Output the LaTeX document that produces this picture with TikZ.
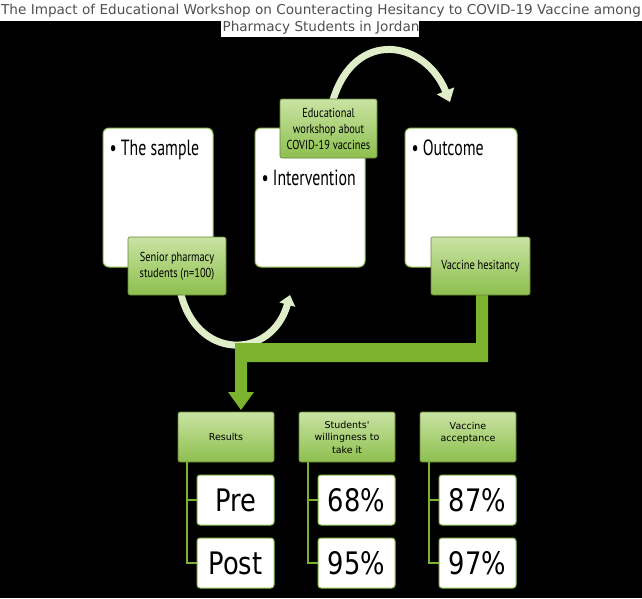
\documentclass[tikz,border=0pt]{standalone}
\usepackage{fontspec}
\setmainfont{PT Sans}[FakeStretch=0.8]
\newfontfamily\hdfont{PT Sans}[FakeStretch=0.72]
\newfontfamily\dv{DejaVu Sans}
\newfontfamily\dvc{DejaVu Sans}[FakeStretch=0.83]
\usetikzlibrary{arrows.meta}
\definecolor{gl}{HTML}{C9E3A3}
\definecolor{gd}{HTML}{8DBF4E}
\definecolor{gb}{HTML}{7BB32E}
\definecolor{ttl}{HTML}{505050}
\tikzset{
 wbox/.style={draw=gd,line width=1pt,fill=white,rounded corners=6pt,inner sep=0pt},
 gbox/.style={draw=gd!70!black,line width=0.6pt,top color=gl,bottom color=gd,rounded corners=2pt,align=center,inner sep=0pt},
 vbox/.style={draw=gd,line width=1pt,fill=white,rounded corners=3pt,minimum width=77pt,minimum height=50pt,inner sep=0pt,font=\dvc\fontsize{31}{34}\selectfont},
 arc/.style={line width=7pt,draw=gl!60!white},
 tree/.style={draw=gb,line width=1.2pt},
 head/.style={anchor=base west,font=\hdfont\fontsize{22}{26}\selectfont},
}
\begin{document}
\begin{tikzpicture}[x=1pt,y=-1pt]
\useasboundingbox (0,0) rectangle (642,598);
\fill[black] (0,0) rectangle (642,598);
\fill[white] (0,0) rectangle (642,21);
\fill[white] (221,21) rectangle (419,37);
\node[font=\dv\fontsize{13.6}{17}\selectfont,text=ttl,align=center,inner sep=0pt] (title) at (321,19) {The Impact of Educational Workshop on Counteracting Hesitancy to COVID-19 Vaccine among\\Pharmacy Students in Jordan};
% arcs
\draw[arc,-{Triangle[width=18pt,length=12pt]}] (333,100) .. controls (355,28) and (425,40) .. (450,102);
\draw[arc,-{Triangle[width=16pt,length=10pt]}] (180,290) .. controls (195,362) and (272,360) .. (290,295);
% white boxes
\node[wbox,minimum width=110pt,minimum height=139pt] (s) at (158,197.5) {};
\node[wbox,minimum width=110pt,minimum height=139pt] (i) at (310,197.5) {};
\node[wbox,minimum width=112pt,minimum height=139pt] (o) at (461,197.5) {};
\node[head] (st) at (106,155) {• The sample};
\node[head] (it) at (258,185) {• Intervention};
\node[head] (ot) at (408,155) {• Outcome};
% L arrow
\fill[gb] (476,290) -- (488,290) -- (488,362) -- (247,362) -- (247,392) -- (254,392) -- (241,410) -- (228,392) -- (235,392) -- (235,343) -- (476,343) -- cycle;
\node[gbox,minimum width=98pt,minimum height=58pt,font=\fontsize{13}{16}\selectfont] (sn) at (177,266) {Senior pharmacy\\students (n=100)};
\node[gbox,minimum width=97pt,minimum height=59pt,font=\fontsize{13}{16}\selectfont] (ed) at (328.5,128.5) {Educational\\workshop about\\COVID-19 vaccines};
\node[gbox,minimum width=99pt,minimum height=58pt,font=\fontsize{13}{16}\selectfont] (vh) at (480.5,266) {Vaccine hesitancy};
% headers
\tikzset{hbox/.style={gbox,minimum width=96pt,minimum height=50pt,font=\dv\fontsize{9.5}{12.5}\selectfont}}
\node[hbox] (r) at (226,437) {Results};
\node[hbox] (w) at (347,437) {Students'\\willingness to\\take it};
\node[hbox,text depth=10pt] (a) at (468,437) {Vaccine\\acceptance};
\node[vbox] (pre) at (235.5,500) {Pre};
\node[vbox] (post) at (235.5,563) {Post};
\node[vbox] (w1) at (356.5,500) {68\%};
\node[vbox] (w2) at (356.5,563) {95\%};
\node[vbox] (a1) at (477.5,500) {87\%};
\node[vbox] (a2) at (477.5,563) {97\%};
\foreach \h/\p/\q/\x in {r/pre/post/187,w/w1/w2/308,a/a1/a2/429}{
 \draw[tree] (\x,462) |- (\p.west);
 \draw[tree] (\x,462) |- (\q.west);
}
\end{tikzpicture}
\end{document}
